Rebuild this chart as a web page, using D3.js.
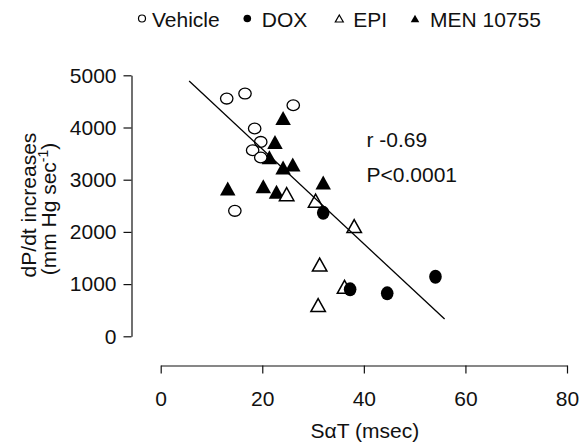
<!DOCTYPE html>
<html>
<head>
<meta charset="utf-8">
<script src="https://cdn.jsdelivr.net/npm/d3@7"></script>
<style>
  body { margin: 0; background: #fff; }
  text { font-family: "Liberation Sans", Arial, Helvetica, sans-serif; fill: #111; }
</style>
</head>
<body>
<div id="chart"></div>
<script>
// S-alpha-T vs dP/dt scatter, four groups + regression line

// data: [SaT msec, dP/dt]
var vehicle = [[13.0, 4554], [16.6, 4650], [26.1, 4426], [18.5, 3980], [19.7, 3724], [18.1, 3565], [19.7, 3425], [14.6, 2403]];
var dox = [[32.0, 2365], [37.3, 899], [44.6, 823], [54.1, 1140]];
var epi = [[24.8, 2723], [30.5, 2599], [38.1, 2111], [31.3, 1374], [36.2, 949], [31.0, 599]];
var men = [[24.1, 4183], [22.5, 3724], [21.4, 3431], [24.1, 3234], [26.0, 3291], [32.0, 2947], [13.2, 2832], [20.2, 2876], [22.8, 2767]];
var fitLine = [[5.6, 4890], [55.9, 330]];

var xTicks = [0, 20, 40, 60, 80];
var yTicks = [0, 1000, 2000, 3000, 4000, 5000];
var legendNames = ["Vehicle", "DOX", "EPI", "MEN 10755"];
var statsText = ["r -0.69", "P<0.0001"];

var svgWidth = 580, svgHeight = 445;

var svg = d3.select("#chart").append("svg")
    .attr("width", svgWidth)
    .attr("height", svgHeight);

var x = d3.scaleLinear().domain([0, 80]).range([160.7, 567]);
var y = d3.scaleLinear().domain([0, 5000]).range([336.3, 75.3]);

var fontSize = 21;

// axes
var xAxis = svg.append("g")
    .attr("transform", "translate(0,365.5)")
    .call(d3.axisBottom(x).tickValues(xTicks).tickFormat(d3.format("d"))
        .tickSize(8).tickSizeOuter(0).tickPadding(18));
var yAxis = svg.append("g")
    .attr("transform", "translate(131.5,0)")
    .call(d3.axisLeft(y).tickValues(yTicks).tickFormat(d3.format("d"))
        .tickSize(8).tickSizeOuter(0).tickPadding(7));

[xAxis, yAxis].forEach(function(ax) {
    ax.selectAll("path, line").attr("stroke", "#111").attr("stroke-width", 1.2);
    ax.selectAll("text").style("font-size", fontSize + "px").attr("fill", "#111");
    ax.attr("font-family", null);
});

// axis titles
var xt = svg.append("text")
    .attr("x", x(40) + 1)
    .attr("y", 437.5)
    .attr("text-anchor", "middle")
    .style("font-size", fontSize + "px");
xt.append("tspan").text("S");
xt.append("tspan").text("\u03b1");
xt.append("tspan").text("T (msec)");

var yt = svg.append("g").attr("transform", "translate(0,205) rotate(-90)");
yt.append("text")
    .attr("x", 0).attr("y", 36)
    .attr("text-anchor", "middle")
    .style("font-size", fontSize + "px")
    .text("dP/dt increases");
var yt2 = yt.append("text")
    .attr("x", -4).attr("y", 56)
    .attr("text-anchor", "middle")
    .style("font-size", fontSize + "px");
yt2.append("tspan").text("(mm Hg sec");
yt2.append("tspan").attr("dy", -8).style("font-size", "14px").text("-1");
yt2.append("tspan").attr("dy", 8).text(")");

// marker helpers
var triW = 15.5, triH = 14;
function triPath(w, h) {
    return "M0," + (-h / 2) + "L" + (w / 2) + "," + (h / 2) + "L" + (-w / 2) + "," + (h / 2) + "Z";
}

// MEN 10755 (filled triangles)
svg.append("g").selectAll("path")
    .data(men).enter().append("path")
    .attr("transform", d => "translate(" + x(d[0]) + "," + y(d[1]) + ")")
    .attr("d", triPath(triW, triH))
    .attr("fill", "#000");

// Vehicle (open circles)
svg.append("g").selectAll("ellipse")
    .data(vehicle).enter().append("ellipse")
    .attr("cx", d => x(d[0]))
    .attr("cy", d => y(d[1]))
    .attr("rx", 6.2).attr("ry", 5.4)
    .attr("fill", "#fff")
    .attr("stroke", "#000")
    .attr("stroke-width", 1.3);

// EPI (open triangles)
svg.append("g").selectAll("path")
    .data(epi).enter().append("path")
    .attr("transform", d => "translate(" + x(d[0]) + "," + y(d[1]) + ")")
    .attr("d", triPath(triW - 1, triH - 1))
    .attr("fill", "#fff")
    .attr("stroke", "#000")
    .attr("stroke-width", 1.5);

// DOX (filled circles)
svg.append("g").selectAll("ellipse")
    .data(dox).enter().append("ellipse")
    .attr("cx", d => x(d[0]))
    .attr("cy", d => y(d[1]))
    .attr("rx", 6.3).attr("ry", 7)
    .attr("fill", "#000");

// regression line
svg.append("path")
    .datum(fitLine)
    .attr("d", d3.line().x(d => x(d[0])).y(d => y(d[1])))
    .attr("stroke", "#000")
    .attr("stroke-width", 1.3)
    .attr("fill", "none");

// stats
svg.selectAll(".stat")
    .data(statsText).enter().append("text")
    .attr("class", "stat")
    .attr("x", 366.5)
    .attr("y", (d, i) => 146.7 + i * 35)
    .style("font-size", fontSize + "px")
    .text(d => d);

// legend
var legendX = [142, 247.3, 339.3, 415];
var leg = svg.append("g");
leg.append("circle").attr("cx", legendX[0]).attr("cy", 18.5).attr("r", 3.5)
    .attr("fill", "#fff").attr("stroke", "#000").attr("stroke-width", 1.2);
leg.append("circle").attr("cx", legendX[1]).attr("cy", 18.5).attr("r", 3.8).attr("fill", "#000");
leg.append("path").attr("transform", "translate(" + legendX[2] + ",18.5)")
    .attr("d", triPath(8, 7)).attr("fill", "#fff").attr("stroke", "#000").attr("stroke-width", 1.2);
leg.append("path").attr("transform", "translate(" + legendX[3] + ",18.5)")
    .attr("d", triPath(8.5, 7.5)).attr("fill", "#000");
leg.selectAll(".lt")
    .data(legendNames).enter().append("text")
    .attr("class", "lt")
    .attr("x", (d, i) => legendX[i] + [10, 14.5, 14, 15][i])
    .attr("y", 26.5)
    .style("font-size", fontSize + "px")
    .text(d => d);
</script>
</body>
</html>
